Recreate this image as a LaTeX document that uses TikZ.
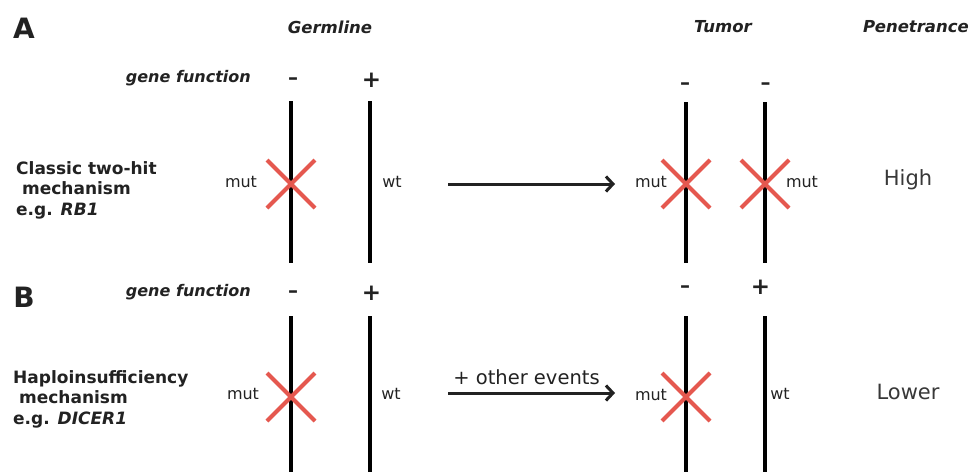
\documentclass[tikz,border=0pt]{standalone}
\usepackage{fontspec}
\setmainfont{DejaVu Sans}
\usetikzlibrary{arrows.meta}
\definecolor{xred}{HTML}{E5584F}
\definecolor{txt}{HTML}{222222}
\begin{document}
\begin{tikzpicture}[x=1pt,y=-1pt,
  hdr/.style={font=\fontsize{16.5}{18}\selectfont\bfseries\itshape, text=txt, inner sep=0},
  panel/.style={font=\fontsize{28}{30}\selectfont\bfseries, text=txt, inner sep=0},
  gf/.style={font=\fontsize{16}{18}\selectfont\bfseries\itshape, text=txt, inner sep=0, anchor=east},
  sign/.style={font=\fontsize{20}{22}\selectfont\bfseries, text=txt, inner sep=0, anchor=base},
  plus/.style={font=\fontsize{23}{25}\selectfont\bfseries, text=txt, inner sep=0, anchor=base},
  mech/.style={font=\fontsize{17}{20.5}\selectfont\bfseries, text=txt, inner sep=0, anchor=west, align=left},
  allele/.style={font=\fontsize{16}{18}\selectfont, text=txt, inner sep=0},
  pen/.style={font=\fontsize{21}{23}\selectfont, text=txt!90, inner sep=0},
  chrom/.style={line width=4pt, black},
  hit/.style={line width=4pt, xred},
  evolve/.style={line width=3pt, -{Straight Barb[length=7pt,width=15pt]}, txt},
  evlabel/.style={font=\fontsize{19.5}{21}\selectfont, text=txt, inner sep=0}]

\useasboundingbox (0,0) rectangle (971,472);
\fill[white] (0,0) rectangle (971,472);

% headers
\node[panel] (pA) at (24,28) {A};
\node[panel] (pB) at (24,297) {B};
\node[hdr] (hG) at (330,27) {Germline};
\node[hdr] (hT) at (723,27) {Tumor};
\node[hdr] (hP) at (916,27) {Penetrance};

% ===== Panel A =====
\node[gf] (gfA) at (251,78) {gene function};
\node[sign] (sA1) at (293,84) {–};
\node[plus] (sA2) at (371.5,87) {+};
\node[sign] (sA3) at (685,89) {–};
\node[sign] (sA4) at (765.5,89) {–};

\node[mech] (mA) at (16,190) {Classic two-hit\\\ mechanism\\e.g. \textit{RB1}};

\coordinate (lA1t) at (291,101); \coordinate (lA1b) at (291,263);
\coordinate (lA2t) at (370,101); \coordinate (lA2b) at (370,263);
\coordinate (lA3t) at (686,102); \coordinate (lA3b) at (686,263);
\coordinate (lA4t) at (765,102); \coordinate (lA4b) at (765,263);
\draw[chrom] (lA1t) -- (lA1b);
\draw[chrom] (lA2t) -- (lA2b);
\draw[chrom] (lA3t) -- (lA3b);
\draw[chrom] (lA4t) -- (lA4b);

\coordinate (xA1) at (291,184);
\coordinate (xA3) at (686,184);
\coordinate (xA4) at (765,184);
\draw[hit] (xA1) +(-24,-24) -- +(24,24) (xA1) +(-24,24) -- +(24,-24);
\draw[hit] (xA3) +(-24,-24) -- +(24,24) (xA3) +(-24,24) -- +(24,-24);
\draw[hit] (xA4) +(-24,-24) -- +(24,24) (xA4) +(-24,24) -- +(24,-24);

\node[allele] (mutA1) at (241,182) {mut};
\node[allele] (wtA2) at (392,182) {wt};
\node[allele] (mutA3) at (651,182) {mut};
\node[allele] (mutA4) at (802,182) {mut};

\coordinate (arA1) at (448,184);
\coordinate (arA2) at (615,184);
\draw[evolve] (arA1) -- (arA2);

\node[pen] (penA) at (908,180) {High};

% ===== Panel B =====
\node[gf] (gfB) at (251,292) {gene function};
\node[sign] (sB1) at (293,297) {–};
\node[plus] (sB2) at (371.5,300) {+};
\node[sign] (sB3) at (685,292) {–};
\node[plus] (sB4) at (760.5,294) {+};

\node[mech] (mB) at (13,399) {Haploinsufficiency\\\ mechanism\\e.g. \textit{DICER1}};

\coordinate (lB1t) at (291,316); \coordinate (lB1b) at (291,472);
\coordinate (lB2t) at (370,316); \coordinate (lB2b) at (370,472);
\coordinate (lB3t) at (686,316); \coordinate (lB3b) at (686,472);
\coordinate (lB4t) at (765,316); \coordinate (lB4b) at (765,472);
\draw[chrom] (lB1t) -- (lB1b);
\draw[chrom] (lB2t) -- (lB2b);
\draw[chrom] (lB3t) -- (lB3b);
\draw[chrom] (lB4t) -- (lB4b);

\coordinate (xB1) at (291,397);
\coordinate (xB3) at (686,397);
\draw[hit] (xB1) +(-24,-24) -- +(24,24) (xB1) +(-24,24) -- +(24,-24);
\draw[hit] (xB3) +(-24,-24) -- +(24,24) (xB3) +(-24,24) -- +(24,-24);

\node[allele] (mutB1) at (243,394) {mut};
\node[allele] (wtB2) at (391,394) {wt};
\node[allele] (mutB3) at (651,395) {mut};
\node[allele] (wtB4) at (780,394) {wt};

\coordinate (arB1) at (448,393);
\coordinate (arB2) at (615,393);
\draw[evolve] (arB1) -- node[evlabel, above=7pt, xshift=-5pt] (evB) {+ other events} (arB2);

\node[pen] (penB) at (908,392) {Lower};
\end{tikzpicture}
\end{document}
